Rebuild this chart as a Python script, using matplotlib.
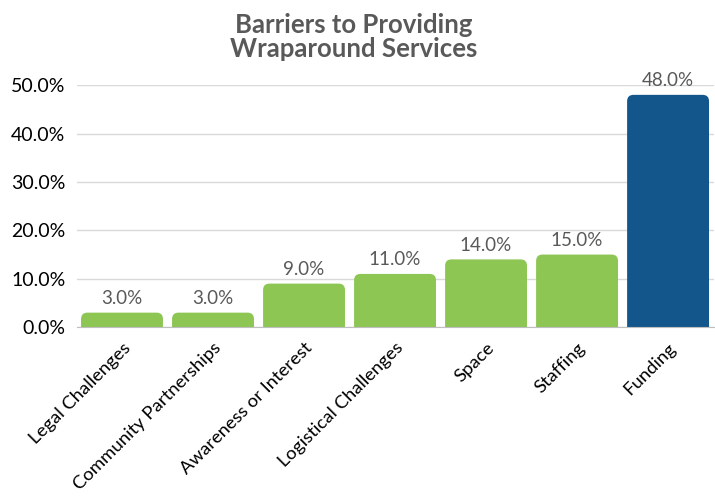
import matplotlib.pyplot as plt
from matplotlib.patches import FancyBboxPatch
import numpy as np

plt.rcParams['font.family'] = ['Lato', 'DejaVu Sans']

categories = ["Legal Challenges", "Community Partnerships", "Awareness or Interest",
              "Logistical Challenges", "Space", "Staffing", "Funding"]
values = [3.0, 3.0, 9.0, 11.0, 14.0, 15.0, 48.0]
colors = ["#8DC653"] * 6 + ["#13568C"]

fig = plt.figure(figsize=(7.15, 5.01), dpi=100)
ax = fig.add_axes([0.107, 0.347, 0.891, 0.483])

ax.set_xlim(-0.5, len(categories) - 0.5)
ax.set_ylim(0, 50)

x = np.arange(len(categories))
w = 0.9
# pixel size of one data unit, to make round corners circular
px_x = ax.bbox.width / len(categories)
px_y = ax.bbox.height / 50
for xi, v, c in zip(x, values, colors):
    p = FancyBboxPatch((xi - w / 2, -2), w, v + 2,
                       boxstyle="round,pad=0,rounding_size=0.07",
                       mutation_aspect=px_x / px_y,
                       facecolor=c, edgecolor="none", zorder=3)
    ax.add_patch(p)
    ax.text(xi, v + 1.2, f"{v:.1f}%", ha="center", va="bottom", fontsize=13.5, color="#595959")

ax.set_yticks(np.arange(0, 51, 10))
ax.set_yticklabels([f"{t:.1f}%" for t in np.arange(0, 51, 10)], fontsize=14)
ax.set_xticks(x)
ax.set_xticklabels(categories, rotation=45, ha="right", rotation_mode="anchor", fontsize=13.3)
ax.tick_params(length=0, pad=8)
ax.tick_params(axis="x", pad=9)
ax.grid(axis="y", color="#D9D9D9", linewidth=1, zorder=0)
for s in ["top", "right", "left"]:
    ax.spines[s].set_visible(False)
ax.spines["bottom"].set_color("#BFBFBF")
ax.spines["bottom"].set_zorder(4)

fig.suptitle("Barriers to Providing\nWraparound Services", fontsize=18.5, fontweight="bold",
             color="#595959", x=0.495, y=0.975, linespacing=1.0)

fig.savefig("out.png", dpi=100)
